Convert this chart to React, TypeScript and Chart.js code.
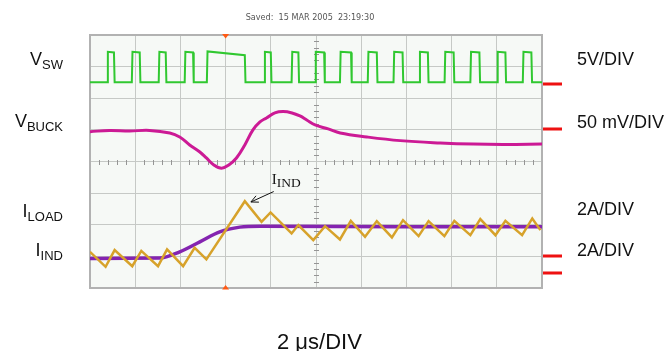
import React, { useEffect, useRef } from "react";
import { Chart, registerables } from "chart.js";
Chart.register(...registerables);

// ---- time base: 2 us/div, 10 divisions ----
const T_MIN = 0;
const T_MAX = 20; // us
const T_STEP = 2;
const DIVS = 8;

// ---- channel setup (units per division, reference level in divisions) ----
const SW_PER_DIV = 5; // V
const BUCK_PER_DIV = 50; // mV
const I_PER_DIV = 2; // A
const SW_REF = 6.44;
const BUCK_REF = 5.02;
const I_REF = 0.47;
const MARKER_REFS = [6.44, 5.02, 1.0, 0.47];

// ---- V_SW (V): switching node ----
const vswRise = [0.76, 1.85, 3.04, 4.19, 5.17, 7.71, 8.92, 9.96, 11.06, 12.29, 13.43, 14.57, 15.69, 16.83, 18.01, 19.15];
const vswFall = [1.06, 2.2, 3.35, 4.56, 6.85, 8.0, 9.22, 10.36, 11.55, 12.69, 13.83, 14.95, 16.09, 17.23, 18.38, 19.53];
const vswTopStart = [5.15, 5.15, 5.15, 5.15, 5.2, 5.15, 5.15, 5.15, 5.15, 5.15, 5.15, 5.15, 5.15, 5.15, 5.15, 5.15];
const vswTopEnd = [5.05, 5.05, 5.05, 5.05, 4.6, 5.05, 5.05, 5.05, 5.05, 5.05, 5.05, 5.05, 5.05, 5.05, 5.05, 5.05];
const vswLow = 0.32;

// ---- V_BUCK (mV, AC deviation) ----
const buckT = [0, 0.86, 1.75, 2.64, 3.53, 3.97, 4.41, 4.86, 5.15, 5.48, 5.82, 6.14, 6.48, 6.85, 7.21, 7.52, 7.81, 8.18, 8.54, 8.94, 9.29, 9.59, 9.96, 10.54, 11.07, 12.25, 13.73, 15.5, 16.96, 18.38, 20];
const buckMv = [-3.8, -1.9, -2.7, -1.9, -5.9, -12.2, -24.8, -35.9, -45.4, -56.5, -61.7, -56.5, -45.4, -24.8, -1.1, 11.6, 17.9, 25.8, 27.9, 25.8, 21.0, 14.7, 6.8, 0.5, -5.9, -12.2, -18.0, -21.7, -23.5, -24.0, -23.3];

// ---- I_LOAD (A) ----
const loadT = [0, 3.08, 3.97, 4.86, 5.74, 6.63, 7.52, 13.73, 20];
const loadA = [0.93, 0.95, 1.35, 1.98, 2.61, 2.91, 2.97, 2.94, 2.93];

// ---- I_IND (A) ----
const indT = [0, 0.69, 1.09, 1.87, 2.27, 3.01, 3.41, 4.12, 4.63, 5.15, 6.85, 7.59, 7.99, 8.92, 9.22, 9.88, 10.4, 11.06, 11.54, 12.17, 12.69, 13.36, 13.85, 14.54, 14.98, 15.68, 16.12, 16.83, 17.27, 17.94, 18.38, 19.12, 19.57, 19.93];
const indA = [1.35, 0.4, 1.46, 0.44, 1.41, 0.44, 1.5, 0.44, 1.6, 0.87, 4.55, 3.24, 3.84, 2.51, 3.04, 2.09, 2.97, 2.13, 3.31, 2.3, 3.29, 2.26, 3.35, 2.34, 3.29, 2.34, 3.31, 2.4, 3.42, 2.4, 3.31, 2.4, 3.46, 2.72];

const TRIGGER_T = 6;

const SANS = "'Liberation Sans', Arial, sans-serif";
const SERIF = "'Liberation Serif', 'Times New Roman', serif";

function buildVsw() {
  const pts: { x: number; y: number }[] = [{ x: T_MIN, y: vswLow }];
  for (let i = 0; i < vswRise.length; i++) {
    pts.push({ x: vswRise[i], y: vswLow });
    pts.push({ x: vswRise[i] + 0.03, y: vswTopStart[i] });
    pts.push({ x: vswFall[i], y: vswTopEnd[i] });
    pts.push({ x: vswFall[i] + 0.03, y: vswLow });
  }
  pts.push({ x: T_MAX, y: vswLow });
  return pts;
}

const zip = (xs: number[], ys: number[]) => xs.map((x, i) => ({ x, y: ys[i] }));

function subLabel(ctx: CanvasRenderingContext2D, x: number, base: number, main: string, sub: string, mainFont: string, subFont: string, shift: number, align: "left" | "right") {
  ctx.font = mainFont;
  const w1 = ctx.measureText(main).width;
  ctx.font = subFont;
  const w2 = ctx.measureText(sub).width;
  const sx = align === "right" ? x - w1 - w2 : x;
  ctx.textAlign = "left";
  ctx.textBaseline = "alphabetic";
  ctx.font = mainFont;
  ctx.fillText(main, sx, base);
  ctx.font = subFont;
  ctx.fillText(sub, sx + w1, base + shift);
}

const leftLabels = [
  { main: "V", sub: "SW", base: 65 },
  { main: "V", sub: "BUCK", base: 127 },
  { main: "I", sub: "LOAD", base: 217 },
  { main: "I", sub: "IND", base: 256 },
];
const rightLabels = [
  { text: "5V/DIV", base: 65 },
  { text: "50 mV/DIV", base: 128 },
  { text: "2A/DIV", base: 215 },
  { text: "2A/DIV", base: 256 },
];

const scopePlugin = {
  id: "scope",
  beforeDraw(chart: any) {
    const { ctx, chartArea: a } = chart;
    ctx.save();
    ctx.fillStyle = "#f6f9f6";
    ctx.fillRect(a.left, a.top, a.right - a.left, a.bottom - a.top);
    ctx.restore();
  },
  beforeDatasetsDraw(chart: any) {
    const { ctx, chartArea: a, scales } = chart;
    const xs = scales.x;
    const ys = scales.y;
    ctx.save();
    ctx.strokeStyle = "#959595";
    ctx.lineWidth = 1;
    const yc = Math.round(ys.getPixelForValue(DIVS / 2)) + 0.5;
    const xc = Math.round(xs.getPixelForValue((T_MIN + T_MAX) / 2)) + 0.5;
    ctx.beginPath();
    for (let k = 0; k <= 50; k++) {
      if (k % 5 === 0) continue;
      const x = Math.round(xs.getPixelForValue(T_MIN + (k * (T_MAX - T_MIN)) / 50)) + 0.5;
      ctx.moveTo(x, yc - 2.5);
      ctx.lineTo(x, yc + 2.5);
    }
    for (let k = 0; k <= 40; k++) {
      if (k % 5 === 0) continue;
      const y = Math.round(ys.getPixelForValue((k * DIVS) / 40)) + 0.5;
      ctx.moveTo(xc - 2.5, y);
      ctx.lineTo(xc + 2.5, y);
    }
    ctx.stroke();
    ctx.strokeStyle = "#b2b2b2";
    ctx.lineWidth = 2;
    ctx.strokeRect(a.left, a.top, a.right - a.left, a.bottom - a.top);
    ctx.restore();
  },
  afterDraw(chart: any) {
    const { ctx, chartArea: a, scales } = chart;
    const xs = scales.x;
    const ys = scales.y;
    ctx.save();
    // trigger markers
    const tx = xs.getPixelForValue(TRIGGER_T);
    ctx.fillStyle = "#ff5a14";
    ctx.beginPath();
    ctx.moveTo(tx - 3.5, a.top - 1);
    ctx.lineTo(tx + 3.5, a.top - 1);
    ctx.lineTo(tx, a.top + 3.5);
    ctx.closePath();
    ctx.fill();
    ctx.beginPath();
    ctx.moveTo(tx - 3.5, a.bottom + 1.5);
    ctx.lineTo(tx + 3.5, a.bottom + 1.5);
    ctx.lineTo(tx, a.bottom - 3);
    ctx.closePath();
    ctx.fill();
    // reference markers
    ctx.fillStyle = "#ee1111";
    for (const r of MARKER_REFS) {
      const y = ys.getPixelForValue(r);
      ctx.fillRect(a.right + 1, Math.round(y) - 1.5, 19, 3);
    }
    // arrow annotation
    const tipX = xs.getPixelForValue(7.12);
    const tipY = ys.getPixelForValue(2.72);
    const tailX = xs.getPixelForValue(8.13);
    const tailY = ys.getPixelForValue(3.05);
    ctx.strokeStyle = "#111";
    ctx.lineWidth = 1;
    ctx.beginPath();
    ctx.moveTo(tailX, tailY);
    ctx.lineTo(tipX, tipY);
    const ang = Math.atan2(tailY - tipY, tailX - tipX);
    const hl = 8;
    ctx.moveTo(tipX + hl * Math.cos(ang + 0.45), tipY + hl * Math.sin(ang + 0.45));
    ctx.lineTo(tipX, tipY);
    ctx.lineTo(tipX + hl * Math.cos(ang - 0.45), tipY + hl * Math.sin(ang - 0.45));
    ctx.stroke();
    ctx.fillStyle = "#111";
    subLabel(ctx, xs.getPixelForValue(8.04), ys.getPixelForValue(3.29), "I", "IND", `15px ${SERIF}`, `13.5px ${SERIF}`, 3, "left");
    // left channel labels
    for (const l of leftLabels) {
      subLabel(ctx, 63, l.base, l.main, l.sub, `18px ${SANS}`, `13px ${SANS}`, 4, "right");
    }
    // right scale labels
    ctx.font = `18px ${SANS}`;
    ctx.textAlign = "left";
    for (const r of rightLabels) ctx.fillText(r.text, 577, r.base);
    // time base
    ctx.font = `22px ${SANS}`;
    ctx.fillText("2 \u03bcs/DIV", 277, 349);
    // header
    ctx.fillStyle = "#555";
    ctx.font = `9px 'Liberation Sans Narrow', 'DejaVu Sans Condensed', sans-serif`;
    ctx.textAlign = "center";
    ctx.fillText("Saved:  15 MAR 2005  23:19:30", 310, 20);
    ctx.restore();
  },
};

export default function App() {
  const ref = useRef<HTMLCanvasElement>(null);
  useEffect(() => {
    if (!ref.current) return;
    const gridCommon = { color: "#c6c9c6", lineWidth: 1, drawTicks: false };
    const chart = new Chart(ref.current, {
      type: "line",
      data: {
        datasets: [
          { label: "I_IND", data: zip(indT, indA), yAxisID: "yI", borderColor: "#d7a22a", borderWidth: 2.5, tension: 0, pointRadius: 0, order: 1 },
          { label: "I_LOAD", data: zip(loadT, loadA), yAxisID: "yI", borderColor: "#8424b0", borderWidth: 3.5, cubicInterpolationMode: "monotone", pointRadius: 0, order: 2 },
          { label: "V_BUCK", data: zip(buckT, buckMv), yAxisID: "yBuck", borderColor: "#cc1a95", borderWidth: 3, tension: 0.4, pointRadius: 0, order: 3 },
          { label: "V_SW", data: buildVsw(), yAxisID: "ySw", borderColor: "#30c830", borderWidth: 2, tension: 0, pointRadius: 0, order: 4 },
        ],
      },
      options: {
        animation: false,
        responsive: false,
        parsing: true,
        layout: { padding: { left: 90, top: 35, right: 128, bottom: 63 } },
        plugins: { legend: { display: false }, tooltip: { enabled: false } },
        scales: {
          x: { type: "linear", min: T_MIN, max: T_MAX, ticks: { display: false, stepSize: T_STEP }, grid: gridCommon, border: { display: false } },
          y: { type: "linear", position: "left", min: 0, max: DIVS, ticks: { display: false, stepSize: 1 }, grid: gridCommon, border: { display: false } },
          ySw: { display: false, min: -SW_REF * SW_PER_DIV, max: (DIVS - SW_REF) * SW_PER_DIV },
          yBuck: { display: false, min: -BUCK_REF * BUCK_PER_DIV, max: (DIVS - BUCK_REF) * BUCK_PER_DIV },
          yI: { display: false, min: -I_REF * I_PER_DIV, max: (DIVS - I_REF) * I_PER_DIV },
        },
      } as any,
      plugins: [scopePlugin as any],
    });
    return () => chart.destroy();
  }, []);
  return (
    <div style={{ position: "absolute", left: 0, top: 0, width: 670, height: 351, background: "#fff" }}>
      <canvas ref={ref} width={670} height={351} style={{ width: 670, height: 351, display: "block" }} />
    </div>
  );
}
